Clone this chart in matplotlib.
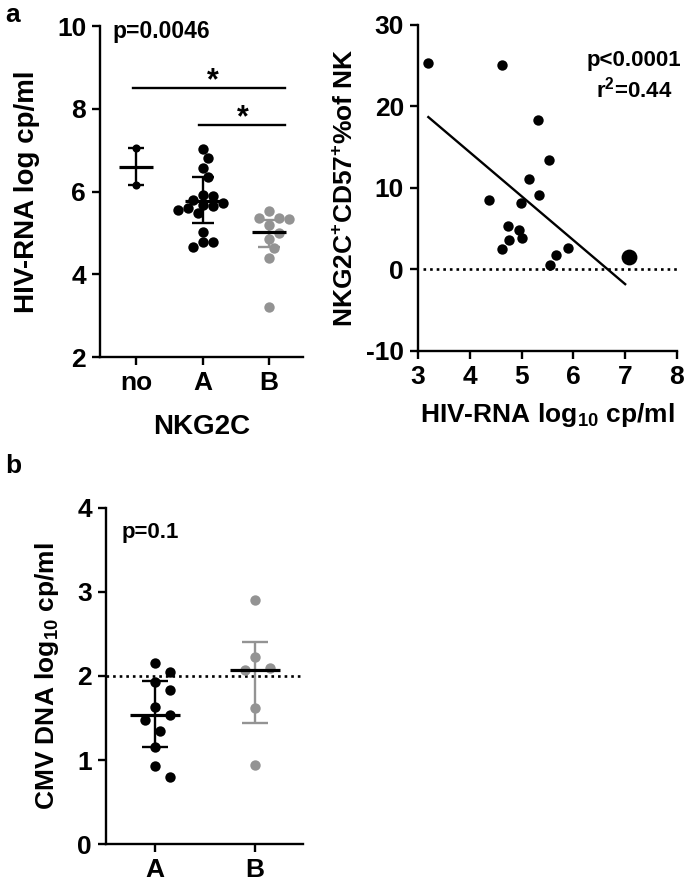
import numpy as np
import matplotlib
matplotlib.use("Agg")
import matplotlib.pyplot as plt

# ---- data ----
# panel a, left: HIV-RNA by NKG2C genotype
grupe = ["no", "A", "B"]
hiv_no = [7.05, 6.15]
hiv_A = [7.03, 6.82, 6.56, 6.36, 5.92, 5.88, 5.80, 5.72, 5.68, 5.64,
         5.56, 5.48, 5.60, 5.03, 4.79, 4.79, 4.67]
hiv_B = [5.53, 5.35, 5.35, 5.33, 5.19, 5.00, 4.85, 4.63, 4.39, 3.22]
hiv_centru = [6.60, 5.78, 5.01]
hiv_sus = [7.05, 6.34, 5.31]
hiv_jos = [6.15, 5.23, 4.67]

# panel a, right: NKG2C+CD57+ vs HIV-RNA
rna_x = [3.20, 4.63, 5.32, 5.53, 5.14, 5.34, 4.38, 4.99, 4.73, 4.95,
         5.01, 4.76, 4.63, 5.66, 5.55, 5.90]
nk_y = [25.3, 25.1, 18.3, 13.4, 11.1, 9.1, 8.5, 8.1, 5.3, 4.8,
        3.9, 3.6, 2.5, 1.8, 0.6, 2.6]
mare_x = [7.07]
mare_y = [1.5]
fit_x = [3.2, 7.0]
fit_y = [18.7, -1.8]

# panel b: CMV DNA
grupe_b = ["A", "B"]
cmv_A = [2.16, 2.05, 1.93, 1.83, 1.63, 1.54, 1.48, 1.35, 1.16, 0.93, 0.80]
cmv_B = [2.90, 2.23, 2.09, 2.07, 1.62, 0.94]
cmv_centru = [1.54, 2.07]
cmv_sus = [1.94, 2.40]
cmv_jos = [1.16, 1.44]

# ---- style ----
plt.rcParams["font.family"] = ["Liberation Sans", "DejaVu Sans"]
plt.rcParams["font.weight"] = "bold"
plt.rcParams["axes.unicode_minus"] = False
plt.rcParams["mathtext.fontset"] = "custom"
plt.rcParams["mathtext.rm"] = "Liberation Sans:bold"
plt.rcParams["mathtext.it"] = "Liberation Sans:bold"
plt.rcParams["mathtext.bf"] = "Liberation Sans:bold"
plt.rcParams["mathtext.default"] = "rm"

NEGRU = "#000000"
GRI = "#939393"
LW = 1.7
S_PUNCT = 56


def stil_axa(ax):
    for s in ["top", "right"]:
        ax.spines[s].set_visible(False)
    for s in ["left", "bottom"]:
        ax.spines[s].set_linewidth(LW)
    ax.tick_params(width=LW, length=6, labelsize=19, pad=4)
    for lab in ax.get_xticklabels() + ax.get_yticklabels():
        lab.set_fontweight("bold")


def roi(ax, xc, vals, d_px, dist=1.0):
    # simple beeswarm: spread points horizontally so they do not overlap too much
    vals = np.asarray(vals, float)
    ordine = np.argsort(vals)[::-1]
    pix = ax.transData.transform(np.column_stack([np.full(len(vals), xc), vals]))
    x_px = np.zeros(len(vals))
    puse = []
    for i in ordine:
        y = pix[i, 1]
        for k in range(0, 40):
            off = ((k + 1) // 2) * d_px * 0.5 * (1 if k % 2 else -1)
            cand = pix[i, 0] + off
            if all((cand - px) ** 2 + (y - py) ** 2 >= (d_px * dist) ** 2 for px, py in puse):
                break
        x_px[i] = cand
        puse.append((cand, y))
    return ax.transData.inverted().transform(np.column_stack([x_px, pix[:, 1]]))[:, 0]


fig = plt.figure(figsize=(6.87, 8.89), dpi=100)

# ---- panel a, left ----
ax1 = fig.add_axes([0.1456, 0.5984, 0.2955, 0.3723])
ax1.set_xlim(-0.54, 2.51)
ax1.set_ylim(2, 10)
stil_axa(ax1)
grupuri = [hiv_no, hiv_A, hiv_B]
culori = [NEGRU, NEGRU, GRI]
capete = [6, 8, 8]
for i, (vals, c) in enumerate(zip(grupuri, culori)):
    xs = roi(ax1, i, vals, 10, 0.95) if i > 0 else np.full(len(vals), i)
    ax1.scatter(xs, vals, s=S_PUNCT if i > 0 else 34, color=c, zorder=2, linewidths=0)
    ax1.errorbar(i, hiv_centru[i], yerr=[[hiv_centru[i] - hiv_jos[i]], [hiv_sus[i] - hiv_centru[i]]],
                 color=c, lw=LW, capsize=capete[i], capthick=LW, zorder=3)
    ax1.hlines(hiv_centru[i], i - 0.26, i + 0.26, color=NEGRU, lw=2.3, zorder=4)
ax1.set_xticks(range(len(grupe)))
ax1.set_xticklabels(grupe)
ax1.set_yticks([2, 4, 6, 8, 10])
ax1.set_ylabel("HIV-RNA log cp/ml", fontsize=20, fontweight="bold", labelpad=12)
ax1.set_xlabel("NKG2C", fontsize=20, fontweight="bold", labelpad=14)
ax1.text(-0.36, 9.86, "p=0.0046", fontsize=16.5, fontweight="bold", va="center", ha="left")
ax1.plot([-0.04, 2.24], [8.51, 8.51], color=NEGRU, lw=LW)
ax1.plot([0.94, 2.24], [7.61, 7.61], color=NEGRU, lw=LW)
ax1.text(1.16, 8.66, "*", fontsize=22, fontweight="bold", ha="center", va="center")
ax1.text(1.61, 7.78, "*", fontsize=22, fontweight="bold", ha="center", va="center")

# ---- panel a, right ----
ax2 = fig.add_axes([0.6084, 0.6052, 0.377, 0.3667])
ax2.set_xlim(3, 8)
ax2.set_ylim(-10, 30)
stil_axa(ax2)
ax2.plot([3.1, 8], [0, 0], color=NEGRU, lw=1.9, linestyle=(0, (1, 1.5)))
ax2.scatter(rna_x, nk_y, s=S_PUNCT, color=NEGRU, linewidths=0, zorder=3)
ax2.scatter(mare_x, mare_y, s=130, color=NEGRU, linewidths=0, zorder=3)
ax2.plot(fit_x, fit_y, color=NEGRU, lw=LW)
ax2.set_xticks([3, 4, 5, 6, 7, 8])
ax2.set_yticks([-10, 0, 10, 20, 30])
ax2.set_ylabel(r"NKG2C$^{+}$CD57$^{+}$%of NK", fontsize=19, fontweight="bold", labelpad=6)
ax2.set_xlabel(r"HIV-RNA log$_{10}$ cp/ml", fontsize=19, fontweight="bold", labelpad=9)
ax2.text(7.17, 25.7, "p<0.0001", fontsize=16, fontweight="bold", ha="center", va="center")
ax2.text(7.17, 22.1, r"r$^{2}$=0.44", fontsize=16, fontweight="bold", ha="center", va="center")

# ---- panel b ----
ax3 = fig.add_axes([0.1543, 0.0506, 0.2867, 0.378])
ax3.set_xlim(-0.49, 1.48)
ax3.set_ylim(0, 4)
stil_axa(ax3)
ax3.plot([-0.49, 1.48], [2, 2], color=NEGRU, lw=1.9, linestyle=(0, (1, 1.5)), zorder=1)
for i, (vals, c) in enumerate(zip([cmv_A, cmv_B], [NEGRU, GRI])):
    xs = roi(ax3, i, vals, 10, 1.6)
    ax3.scatter(xs, vals, s=S_PUNCT, color=c, linewidths=0, zorder=2)
    ax3.errorbar(i, cmv_centru[i], yerr=[[cmv_centru[i] - cmv_jos[i]], [cmv_sus[i] - cmv_centru[i]]],
                 color=c, lw=LW, capsize=9.5, capthick=LW, zorder=3)
    ax3.hlines(cmv_centru[i], i - 0.25, i + 0.25, color=NEGRU, lw=2.3, zorder=4)
ax3.set_xticks(range(len(grupe_b)))
ax3.set_xticklabels(grupe_b)
ax3.set_yticks([0, 1, 2, 3, 4])
ax3.set_ylabel(r"CMV DNA log$_{10}$ cp/ml", fontsize=19, fontweight="bold", labelpad=12)
ax3.text(-0.33, 3.71, "p=0.1", fontsize=16, fontweight="bold", va="center", ha="left")

fig.text(0.008, 0.975, "a", fontsize=19, fontweight="bold", va="baseline")
fig.text(0.008, 0.468, "b", fontsize=19, fontweight="bold", va="baseline")

fig.savefig("out.png", dpi=100)
